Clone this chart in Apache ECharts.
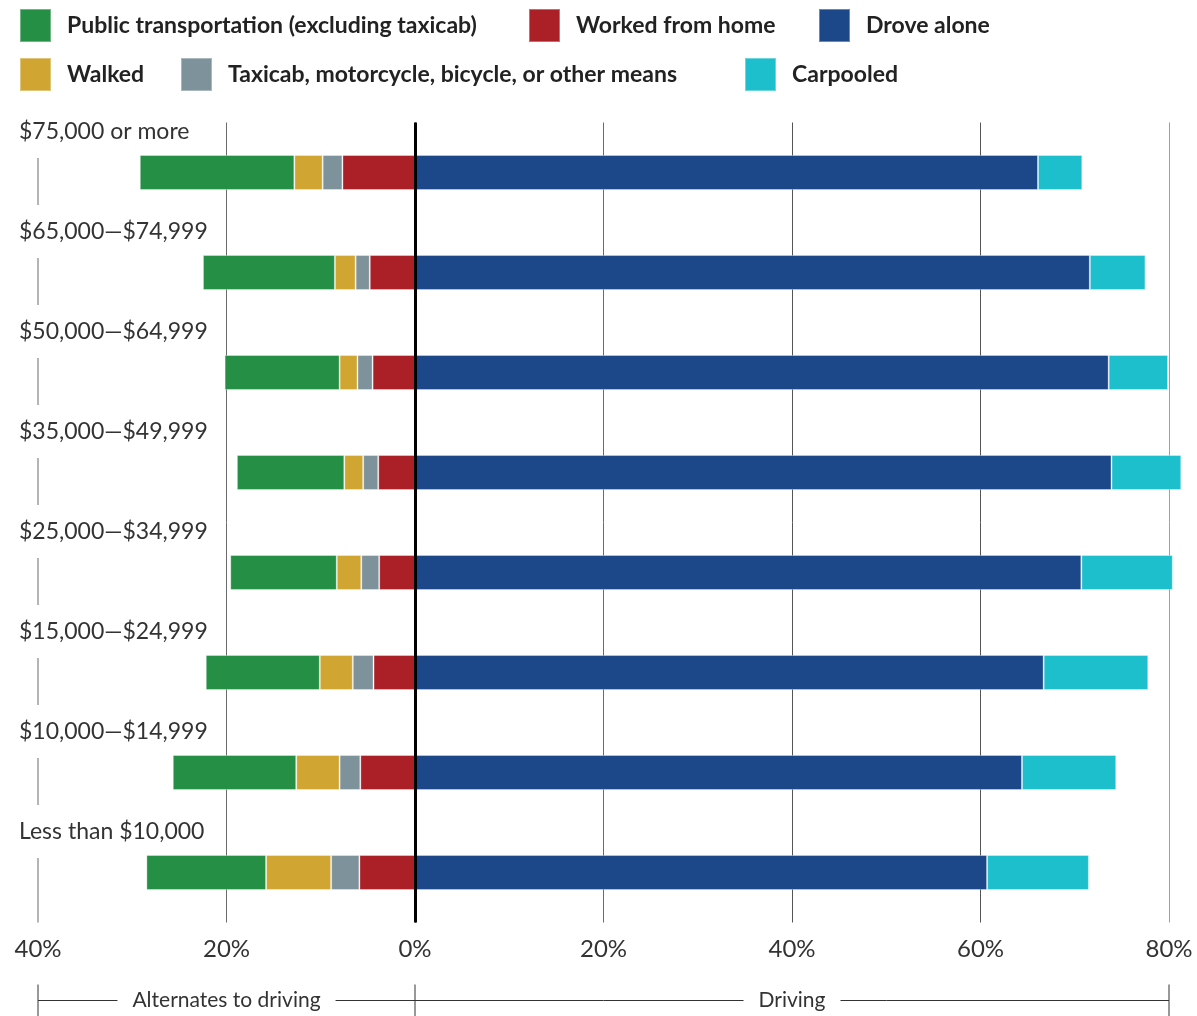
<!DOCTYPE html>
<html>
<head>
<meta charset="utf-8">
<script src="https://cdn.jsdelivr.net/npm/echarts@6/dist/echarts.min.js"></script>
<style>
  html, body { margin: 0; padding: 0; background: #fff; }
  #chart { width: 1197px; height: 1016px; }
</style>
</head>
<body>
<div id="chart"></div>
<script>
// Household income brackets, top to bottom
const incomeBrackets = [
  '$75,000 or more',
  '$65,000\u2014$74,999',
  '$50,000\u2014$64,999',
  '$35,000\u2014$49,999',
  '$25,000\u2014$34,999',
  '$15,000\u2014$24,999',
  '$10,000\u2014$14,999',
  'Less than $10,000'
];

// Share of workers (%) by means of commute
// Alternates to driving (drawn to the left of 0%)
const workedFromHome = [7.7, 4.8, 4.5, 3.9, 3.8, 4.4, 5.8, 5.9];
const otherMeans     = [2.1, 1.5, 1.6, 1.6, 1.9, 2.2, 2.2, 3.0];
const walked         = [3.0, 2.2, 1.9, 2.0, 2.6, 3.5, 4.6, 6.9];
const publicTransit  = [16.4, 14.0, 12.2, 11.4, 11.3, 12.1, 13.1, 12.7];
// Driving (drawn to the right of 0%)
const droveAlone     = [66.1, 71.6, 73.6, 73.9, 70.7, 66.7, 64.4, 60.7];
const carpooled      = [4.7, 5.9, 6.3, 7.4, 9.7, 11.1, 10.0, 10.8];

// Value axis range and tick step
const axisMin = -40, axisMax = 80, axisStep = 20;

const FONT = 'Lato, "Open Sans", sans-serif';
const colors = {
  transit: '#248f45',
  home: '#ab2026',
  alone: '#1c4789',
  walked: '#d0a532',
  other: '#7d929a',
  carpool: '#1ebfcc'
};

const chart = echarts.init(document.getElementById('chart'), null, { renderer: 'canvas' });

function bar(name, values, color, negative) {
  return {
    name: name,
    type: 'bar',
    stack: 'commute',
    barWidth: 35,
    clip: false,
    data: values.map(v => negative ? -v : v),
    itemStyle: { color: color, borderColor: 'rgba(255,255,255,0.35)', borderWidth: 1 },
    emphasis: { disabled: true },
    silent: true
  };
}

function legendAt(name, left, top) {
  return {
    data: [name],
    left: left,
    top: top,
    padding: 0,
    itemWidth: 31,
    itemHeight: 33,
    selectedMode: false,
    icon: 'rect',
    textStyle: {
      fontFamily: FONT,
      fontWeight: 'bold',
      fontSize: 23,
      color: '#222',
      padding: [0, 0, 0, 11]
    }
  };
}

const seriesHome = bar('Worked from home', workedFromHome, colors.home, true);
seriesHome.markLine = {
  silent: true,
  symbol: ['none', 'none'],
  label: { show: false },
  lineStyle: { color: '#000', width: 3, type: 'solid' },
  data: [{ xAxis: 0 }]
};

// Short rule segments at the left edge, running from each bar down to the next label
const leftRule = {
  type: 'custom',
  silent: true,
  z: 1,
  clip: false,
  data: incomeBrackets.map((c, i) => [axisMin, i]),
  renderItem: function (params, api) {
    const i = api.value(1);
    const p = api.coord([axisMin, i]);
    const half = api.size([0, 1])[1] / 2;
    const y1 = p[1] - 14.5;
    const y2 = (i === incomeBrackets.length - 1) ? p[1] + half : p[1] + 32.5;
    return {
      type: 'line',
      shape: { x1: p[0], y1: y1, x2: p[0], y2: y2 },
      style: { stroke: '#6b6b6b', lineWidth: 1 }
    };
  }
};

// Bracket below the axis labelling the two halves of the scale
const bracket = {
  type: 'custom',
  silent: true,
  clip: false,
  z: 1,
  data: [[0, incomeBrackets.length - 1]],
  renderItem: function (params, api) {
    const last = incomeBrackets.length - 1;
    const half = api.size([0, 1])[1] / 2;
    const base = api.coord([0, last])[1] + half;
    const y = base + 78;
    const xL = api.coord([axisMin, last])[0];
    const x0 = api.coord([0, last])[0];
    const xR = api.coord([axisMax, last])[0];
    const lineStyle = { stroke: '#333', lineWidth: 1 };
    const textStyle = (t, x) => ({
      type: 'text',
      x: x, y: y,
      style: {
        text: t,
        fontFamily: FONT,
        fontSize: 21,
        fill: '#333',
        align: 'center',
        verticalAlign: 'middle',
        backgroundColor: '#fff',
        padding: [2, 15, 2, 15]
      }
    });
    return {
      type: 'group',
      children: [
        { type: 'line', shape: { x1: xL, y1: y, x2: xR, y2: y }, style: lineStyle },
        { type: 'line', shape: { x1: xL, y1: y - 16, x2: xL, y2: y + 20 }, style: lineStyle },
        { type: 'line', shape: { x1: x0, y1: y - 16, x2: x0, y2: y + 20 }, style: lineStyle },
        { type: 'line', shape: { x1: xR, y1: y - 16, x2: xR, y2: y + 20 }, style: lineStyle },
        textStyle('Alternates to driving', (xL + x0) / 2),
        textStyle('Driving', (x0 + xR) / 2)
      ]
    };
  }
};

const option = {
  backgroundColor: '#fff',
  animation: false,
  legend: [
    legendAt('Public transportation (excluding taxicab)', 19, 8),
    legendAt('Worked from home', 528, 8),
    legendAt('Drove alone', 818, 8),
    legendAt('Walked', 19, 57),
    legendAt('Taxicab, motorcycle, bicycle, or other means', 180, 57),
    legendAt('Carpooled', 744, 57)
  ],
  grid: { left: 38, right: 28, top: 122.5, height: 800, containLabel: false },
  xAxis: {
    type: 'value',
    min: axisMin,
    max: axisMax,
    interval: axisStep,
    axisLine: { show: false },
    axisTick: { show: false },
    axisLabel: {
      margin: 15,
      fontFamily: FONT,
      fontSize: 24,
      color: '#333',
      formatter: v => Math.abs(v) + '%'
    },
    splitLine: {
      show: true,
      lineStyle: {
        color: ['rgba(0,0,0,0)', '#6b6b6b', '#000', '#6b6b6b', '#555', '#555', '#a0a0a0'],
        width: 1
      }
    }
  },
  yAxis: {
    type: 'category',
    inverse: true,
    data: incomeBrackets,
    axisLine: { show: false },
    axisTick: { show: false },
    splitLine: { show: false },
    axisLabel: {
      align: 'left',
      margin: 19,
      verticalAlign: 'bottom',
      lineHeight: 26,
      padding: [0, 0, 28, 0],
      fontFamily: FONT,
      fontSize: 23,
      color: '#333'
    }
  },
  series: [
    seriesHome,
    bar('Taxicab, motorcycle, bicycle, or other means', otherMeans, colors.other, true),
    bar('Walked', walked, colors.walked, true),
    bar('Public transportation (excluding taxicab)', publicTransit, colors.transit, true),
    bar('Drove alone', droveAlone, colors.alone, false),
    bar('Carpooled', carpooled, colors.carpool, false),
    leftRule,
    bracket
  ]
};

chart.setOption(option);
</script>
</body>
</html>
